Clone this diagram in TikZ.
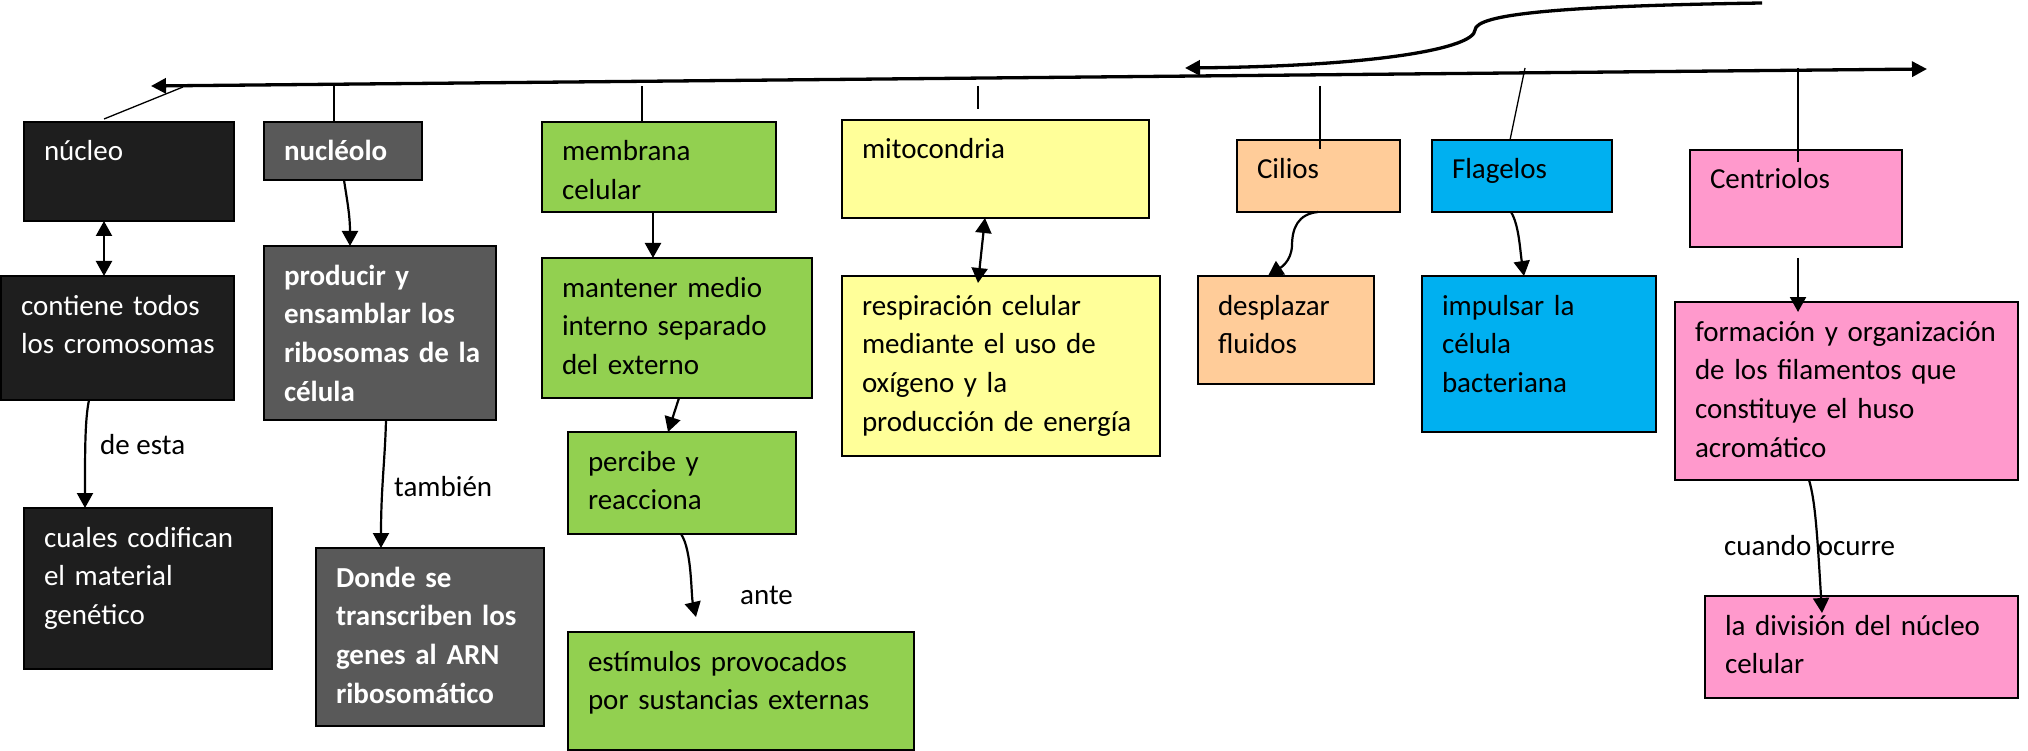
\documentclass[tikz,border=0pt]{standalone}
\usepackage{fontspec}
\setmainfont{Carlito}
\usetikzlibrary{arrows.meta,calc}
\definecolor{cblack}{RGB}{30,30,30}
\definecolor{cgray}{RGB}{89,89,89}
\definecolor{cgreen}{RGB}{146,208,80}
\definecolor{cyellow}{RGB}{255,255,153}
\definecolor{cpeach}{RGB}{255,204,153}
\definecolor{cblue}{RGB}{0,176,240}
\definecolor{cpink}{RGB}{255,153,204}
\newcommand\mybox[8]{%
  \node[cb, fill=#6, minimum width={#4-#2}, minimum height={#5-#3}] (#1) at (#2,#3) {};
  \node[tx, #7] (#1t) at ([shift={(20,39)}]#1.north west) {#8};
}
\begin{document}
\begin{tikzpicture}[x=1pt,y=-1pt,
  cb/.style={draw=black, line width=1.2pt, anchor=north west, inner sep=0pt, outer sep=0pt},
  tx/.style={anchor=base west, inner sep=0pt, outer sep=0pt, text width=380pt, align=left, font=\fontsize{29}{38.8}\selectfont},
  bf/.style={font=\fontsize{29}{38.8}\selectfont\bfseries},
  lbl/.style={anchor=base west, inner sep=0pt, font=\fontsize{29}{38.8}\selectfont},
  link/.style={line width=1.3pt},
  arr/.style={line width=2.2pt, -{Triangle[length=15pt,width=16pt]}},
  darr/.style={line width=2.2pt, {Triangle[length=15pt,width=16pt]}-{Triangle[length=15pt,width=16pt]}},
  main/.style={line width=3.3pt}
]
\useasboundingbox (0,0) rectangle (2028,751);

% boxes
\mybox{nucleo}{24}{122}{234}{221}{cblack}{text=white}{núcleo}
\mybox{nucleolo}{264}{122}{422}{180}{cgray}{text=white,bf}{nucléolo}
\mybox{membrana}{542}{122}{776}{212}{cgreen}{}{membrana\\celular}
\mybox{mito}{842}{120}{1149}{218}{cyellow}{}{mitocondria}
\mybox{cilios}{1237}{140}{1400}{212}{cpeach}{}{Cilios}
\mybox{flagelos}{1432}{140}{1612}{212}{cblue}{}{Flagelos}
\mybox{centriolos}{1690}{150}{1902}{247}{cpink}{}{Centriolos}

\mybox{contiene}{1}{276}{234}{400}{cblack}{text=white}{contiene todos\\los cromosomas}
\mybox{cuales}{24}{508}{272}{669}{cblack}{text=white}{cuales codifican\\el material\\genético}
\mybox{producir}{264}{246}{496}{420}{cgray}{text=white,bf}{producir y\\ensamblar los\\ribosomas de la\\célula}
\mybox{donde}{316}{548}{544}{726}{cgray}{text=white,bf}{Donde se\\transcriben los\\genes al ARN\\ribosomático}
\mybox{mantener}{542}{258}{812}{398}{cgreen}{}{mantener medio\\interno separado\\del externo}
\mybox{percibe}{568}{432}{796}{534}{cgreen}{}{percibe y\\reacciona}
\mybox{estimulos}{568}{632}{914}{750}{cgreen}{}{estímulos provocados\\por sustancias externas}
\mybox{resp}{842}{276}{1160}{456}{cyellow}{}{respiración celular\\mediante el uso de\\oxígeno y la\\producción de energía}
\mybox{desplazar}{1198}{276}{1374}{384}{cpeach}{}{desplazar\\fluidos}
\mybox{impulsar}{1422}{276}{1656}{432}{cblue}{}{impulsar la\\célula\\bacteriana}
\mybox{formacion}{1675}{302}{2018}{480}{cpink}{}{formación y organización\\de los filamentos que\\constituye el huso\\acromático}
\mybox{division}{1705}{596}{2018}{698}{cpink}{}{la división del núcleo\\celular}

% main line and upper curve
\coordinate (mL) at (151,86);
\coordinate (mR) at (1927,69);
\draw[main, {Triangle[length=15pt,width=15pt]}-{Triangle[length=15pt,width=15pt]}] (mL) -- (mR);
\coordinate (uR) at (1762,3);
\coordinate (uL) at (1185,68);
\draw[main, -{Triangle[length=15pt,width=15pt]}] (uR) .. controls (1560,6) and (1476,14) .. (1475,30)
  .. controls (1474,48) and (1380,66) .. (uL);

% connectors from the main line
\coordinate (kN) at (183,87);
\draw[link] ([xshift=80pt,yshift=3pt]nucleo.north west) -- (kN);
\coordinate (kNl) at (334,85);
\draw[link] (kNl) -- (kNl |- nucleolo.north);
\coordinate (kM) at (642,86);
\draw[link] (kM) -- (kM |- membrana.north);
\coordinate (kMi) at (978,86);
\coordinate (kMi2) at (978,109);
\draw[link] (kMi) -- (kMi2);
\coordinate (kC) at (1320,86);
\draw[link] (kC) -- ($(kC |- cilios.north)+(0,9)$);
\coordinate (kF) at (1525,68);
\draw[link] (kF) -- ([xshift=78pt]flagelos.north west);
\coordinate (kCe) at (1798,68);
\draw[link] (kCe) -- ($(kCe |- centriolos.north)+(0,12)$);

% arrows between boxes
\draw[darr] ([xshift=80pt]nucleo.south west) -- ([xshift=103pt]contiene.north west);
\draw[arr] ([xshift=80pt]nucleolo.south west) .. controls +(3,20) and +(0,-31) .. ([xshift=86pt]producir.north west);
\draw[arr] ([xshift=88pt]contiene.south west) .. controls +(-4,20) and +(0,-60) .. ([xshift=61pt]cuales.north west);
\node[lbl] (lde) at (100,454) {de esta};
\draw[arr] ([xshift=122pt]producir.south west) .. controls +(-1,40) and +(0,-60) .. ([xshift=65pt]donde.north west);
\node[lbl] (ltam) at (394,496) {también};
\draw[arr] ([xshift=111pt]membrana.south west) -- ([xshift=111pt]mantener.north west);
\draw[arr] ([xshift=137pt]mantener.south west) -- ([xshift=100pt]percibe.north west);
\coordinate (gE) at (696,617);
\draw[arr] ([xshift=113pt]percibe.south west) .. controls +(11,16) and +(-5,-22) .. (gE);
\node[lbl] (lante) at (740,604) {ante};
\draw[darr] ([xshift=143pt]mito.south west) -- ([xshift=136pt,yshift=-7pt]resp.north west);
\draw[arr] ([xshift=81pt]cilios.south west) .. controls (1298,214) and (1292,228) .. (1292,246)
  .. controls (1291,262) and (1280,268) .. ([xshift=70pt]desplazar.north west);
\draw[arr] ([xshift=79pt]flagelos.south west) .. controls +(8,13) and +(-4,-26) .. ([xshift=102pt]impulsar.north west);
\coordinate (kK) at (1798,258);
\draw[arr] (kK) -- ($(kK |- formacion.north)+(0,10)$);
\draw[arr] ([xshift=134pt]formacion.south west) .. controls +(6,20) and +(-5,-83) .. ([xshift=117pt,yshift=-17pt]division.north west);
\node[lbl] (lcuando) at (1724,555) {cuando ocurre};
\end{tikzpicture}
\end{document}
